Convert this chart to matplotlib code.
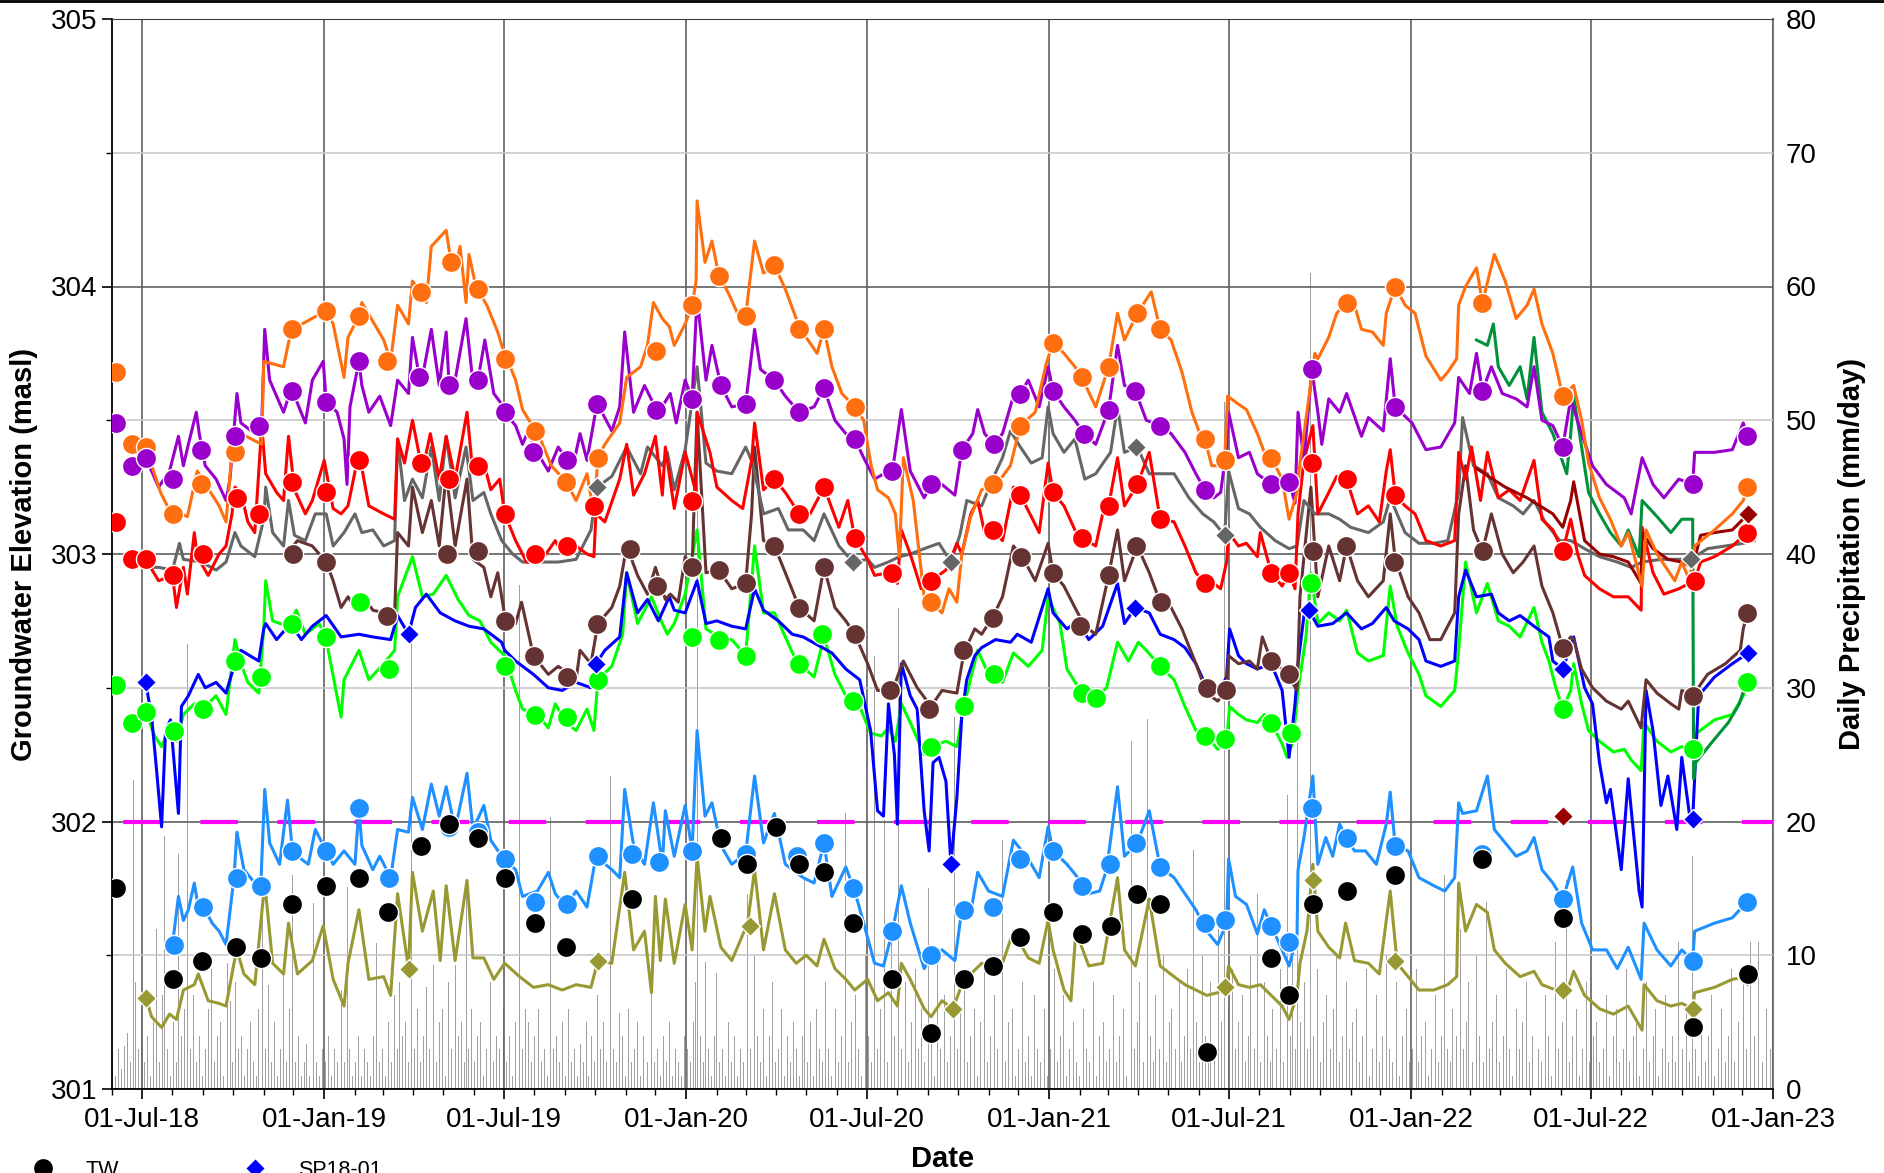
import numpy as np
import matplotlib
matplotlib.use('Agg')
import matplotlib.pyplot as plt
import matplotlib.dates as mdates
from matplotlib.ticker import MultipleLocator
from matplotlib.lines import Line2D

plt.rcParams['font.family'] = ['Liberation Sans', 'DejaVu Sans']

# x values are days counted from this date
T0 = np.datetime64('2018-06-01')

# ---- continuous logger records (day, elevation masl) ----
orange_day = [34, 49, 57, 76, 86, 108, 115, 122, 130, 151, 153, 173, 178, 182, 216, 223, 234, 238, 249, 252, 274, 281, 288, 299, 303, 312, 317, 322, 337, 342, 346, 351, 357, 360, 367, 378, 389, 393, 407, 414, 432, 443, 458, 468, 479, 486, 490, 497, 512, 519, 533, 540, 546, 555, 562, 567, 578, 585, 589, 590, 598, 605, 612, 621, 632, 639, 648, 657, 668, 679, 690, 700, 711, 718, 726, 736, 749, 758, 765, 772, 783, 790, 794, 798, 808, 819, 826, 837, 844, 852, 857, 866, 877, 888, 898, 906, 916, 931, 942, 949, 960, 971, 978, 992, 1005, 1014, 1021, 1034, 1048, 1057, 1068, 1079, 1089, 1097, 1102, 1109, 1115, 1122, 1125, 1136, 1144, 1155, 1162, 1169, 1180, 1187, 1195, 1198, 1213, 1216, 1227, 1235, 1245, 1253, 1260, 1271, 1282, 1285, 1294, 1304, 1314, 1325, 1340, 1347, 1356, 1358, 1365, 1376, 1382, 1394, 1405, 1416, 1427, 1434, 1442, 1453, 1463, 1474, 1482, 1489, 1500, 1511, 1522, 1529, 1543, 1547, 1558, 1576, 1583, 1591, 1596, 1616, 1634, 1645, 1649]
orange_elev = [303.40, 303.23, 303.17, 303.14, 303.31, 303.18, 303.12, 303.43, 303.45, 303.41, 303.72, 303.70, 303.79, 303.84, 303.91, 303.86, 303.66, 303.81, 303.89, 303.94, 303.80, 303.72, 303.93, 303.86, 304.02, 303.98, 303.94, 304.15, 304.21, 304.09, 304.07, 304.15, 303.94, 304.12, 304.00, 303.93, 303.83, 303.78, 303.65, 303.54, 303.43, 303.33, 303.27, 303.20, 303.30, 303.15, 303.36, 303.41, 303.49, 303.66, 303.70, 303.78, 303.94, 303.88, 303.85, 303.78, 303.86, 303.93, 304.02, 304.32, 304.09, 304.17, 304.04, 303.98, 303.89, 303.89, 304.17, 304.05, 304.08, 303.99, 303.88, 303.81, 303.75, 303.84, 303.70, 303.60, 303.55, 303.50, 303.34, 303.24, 303.21, 303.15, 302.99, 303.36, 303.20, 302.84, 302.82, 302.78, 302.87, 302.82, 303.00, 303.14, 303.24, 303.26, 303.29, 303.33, 303.48, 303.53, 303.71, 303.79, 303.75, 303.70, 303.66, 303.55, 303.70, 303.90, 303.80, 303.90, 303.98, 303.84, 303.80, 303.68, 303.53, 303.45, 303.43, 303.33, 303.33, 303.35, 303.59, 303.56, 303.54, 303.45, 303.38, 303.36, 303.28, 303.13, 303.23, 303.34, 303.75, 303.73, 303.81, 303.90, 303.94, 303.93, 303.84, 303.83, 303.78, 303.90, 304.00, 303.93, 303.90, 303.74, 303.65, 303.68, 303.73, 303.93, 304.00, 304.07, 303.94, 304.12, 304.02, 303.88, 303.93, 303.99, 303.86, 303.75, 303.59, 303.63, 303.50, 303.34, 303.21, 303.13, 303.03, 303.08, 302.88, 303.09, 303.00, 302.90, 302.97, 302.90, 303.03, 303.09, 303.15, 303.20, 303.25]

purple_day = [34, 47, 58, 67, 72, 77, 85, 88, 94, 105, 115, 119, 126, 130, 144, 151, 154, 159, 173, 180, 182, 195, 202, 213, 216, 227, 234, 237, 240, 249, 252, 259, 270, 281, 288, 299, 303, 310, 313, 322, 330, 337, 340, 346, 357, 364, 369, 376, 385, 393, 396, 407, 414, 422, 425, 432, 440, 450, 459, 465, 472, 479, 489, 494, 504, 512, 517, 526, 537, 549, 553, 563, 569, 578, 585, 590, 599, 605, 614, 625, 639, 648, 654, 668, 679, 693, 708, 718, 729, 740, 749, 758, 769, 783, 787, 796, 805, 819, 826, 837, 850, 857, 868, 873, 880, 889, 898, 909, 916, 924, 935, 944, 949, 960, 971, 980, 992, 1005, 1014, 1021, 1032, 1043, 1057, 1068, 1082, 1093, 1102, 1111, 1118, 1124, 1126, 1136, 1147, 1155, 1169, 1187, 1193, 1196, 1202, 1210, 1216, 1220, 1227, 1238, 1245, 1260, 1267, 1282, 1289, 1294, 1311, 1325, 1340, 1354, 1358, 1369, 1376, 1382, 1391, 1402, 1416, 1427, 1434, 1442, 1453, 1463, 1471, 1482, 1493, 1507, 1525, 1532, 1543, 1554, 1565, 1580, 1594, 1596, 1616, 1634, 1645, 1649]
purple_elev = [303.36, 303.25, 303.31, 303.44, 303.33, 303.41, 303.53, 303.45, 303.33, 303.28, 303.20, 303.28, 303.60, 303.49, 303.45, 303.49, 303.84, 303.65, 303.53, 303.61, 303.61, 303.49, 303.65, 303.72, 303.57, 303.53, 303.43, 303.26, 303.55, 303.72, 303.63, 303.53, 303.59, 303.48, 303.65, 303.60, 303.81, 303.66, 303.66, 303.84, 303.63, 303.83, 303.63, 303.65, 303.88, 303.64, 303.65, 303.80, 303.60, 303.56, 303.53, 303.48, 303.41, 303.48, 303.38, 303.36, 303.31, 303.40, 303.35, 303.33, 303.45, 303.35, 303.56, 303.53, 303.46, 303.55, 303.83, 303.53, 303.63, 303.54, 303.54, 303.60, 303.49, 303.65, 303.58, 303.96, 303.65, 303.78, 303.63, 303.55, 303.56, 303.84, 303.69, 303.65, 303.59, 303.53, 303.55, 303.62, 303.50, 303.45, 303.43, 303.36, 303.28, 303.31, 303.31, 303.54, 303.31, 303.21, 303.26, 303.26, 303.22, 303.39, 303.45, 303.54, 303.45, 303.41, 303.45, 303.59, 303.60, 303.65, 303.55, 303.70, 303.61, 303.55, 303.50, 303.45, 303.41, 303.54, 303.78, 303.63, 303.61, 303.50, 303.48, 303.45, 303.38, 303.30, 303.24, 303.21, 303.23, 303.40, 303.53, 303.36, 303.38, 303.30, 303.26, 303.27, 303.19, 303.53, 303.35, 303.69, 303.53, 303.41, 303.58, 303.53, 303.60, 303.44, 303.51, 303.46, 303.73, 303.55, 303.49, 303.39, 303.40, 303.49, 303.66, 303.60, 303.75, 303.61, 303.70, 303.60, 303.58, 303.55, 303.70, 303.50, 303.48, 303.40, 303.58, 303.45, 303.33, 303.26, 303.21, 303.15, 303.36, 303.26, 303.21, 303.28, 303.26, 303.38, 303.38, 303.39, 303.49, 303.44]

red_day = [34, 47, 61, 65, 72, 76, 83, 86, 97, 108, 115, 121, 124, 130, 137, 144, 151, 155, 166, 173, 178, 184, 195, 202, 214, 223, 231, 238, 249, 259, 274, 285, 288, 295, 303, 313, 321, 330, 337, 346, 358, 364, 375, 382, 391, 396, 407, 418, 432, 447, 454, 468, 479, 486, 488, 497, 512, 519, 526, 537, 548, 555, 558, 567, 578, 589, 590, 603, 610, 625, 636, 645, 648, 657, 668, 679, 693, 704, 718, 733, 742, 749, 762, 769, 783, 792, 796, 805, 816, 826, 841, 852, 857, 866, 873, 880, 888, 898, 909, 916, 927, 935, 944, 949, 960, 971, 978, 992, 999, 1005, 1014, 1021, 1034, 1046, 1057, 1071, 1082, 1093, 1102, 1111, 1118, 1124, 1126, 1136, 1144, 1155, 1158, 1169, 1180, 1187, 1193, 1196, 1202, 1211, 1216, 1227, 1235, 1245, 1256, 1267, 1278, 1285, 1289, 1294, 1304, 1314, 1325, 1340, 1354, 1358, 1365, 1371, 1380, 1387, 1398, 1409, 1420, 1434, 1442, 1453, 1463, 1471, 1478, 1485, 1500, 1514, 1529, 1542, 1543, 1554, 1565, 1580, 1596, 1602, 1616, 1634, 1649]
red_elev = [302.98, 302.90, 302.92, 302.80, 302.95, 302.85, 303.08, 302.99, 302.92, 303.00, 303.03, 303.15, 303.25, 303.23, 303.12, 303.08, 303.48, 303.30, 303.23, 303.20, 303.44, 303.24, 303.15, 303.20, 303.35, 303.17, 303.15, 303.18, 303.38, 303.18, 303.15, 303.13, 303.43, 303.34, 303.50, 303.31, 303.45, 303.28, 303.44, 303.28, 303.53, 303.30, 303.34, 303.24, 303.28, 303.15, 303.05, 302.97, 302.97, 303.05, 303.00, 303.03, 303.00, 302.99, 303.15, 303.12, 303.28, 303.41, 303.22, 303.30, 303.44, 303.22, 303.40, 303.17, 303.38, 303.23, 303.53, 303.38, 303.25, 303.20, 303.17, 303.35, 303.49, 303.24, 303.28, 303.23, 303.15, 303.15, 303.25, 303.10, 303.20, 303.06, 302.98, 302.92, 302.93, 302.89, 303.09, 303.00, 302.87, 302.90, 302.94, 303.04, 303.00, 303.15, 303.20, 303.08, 303.09, 303.05, 303.25, 303.22, 303.14, 303.08, 303.34, 303.23, 303.18, 303.09, 303.06, 303.03, 303.15, 303.18, 303.36, 303.18, 303.26, 303.38, 303.13, 303.12, 303.03, 302.93, 302.89, 302.89, 302.87, 302.97, 303.08, 303.03, 303.04, 302.99, 303.08, 302.93, 302.88, 302.93, 302.87, 303.15, 303.35, 303.48, 303.15, 303.23, 303.29, 303.28, 303.15, 303.18, 303.12, 303.31, 303.39, 303.22, 303.18, 303.15, 303.05, 303.03, 303.05, 303.38, 303.28, 303.40, 303.20, 303.38, 303.21, 303.24, 303.20, 303.35, 303.13, 303.09, 303.01, 303.13, 303.00, 302.92, 302.87, 302.84, 302.84, 302.79, 303.10, 302.93, 302.85, 302.87, 302.90, 302.97, 302.99, 303.03, 303.08]

gray_day = [34, 47, 61, 68, 72, 90, 105, 115, 124, 130, 144, 153, 155, 162, 173, 178, 184, 195, 205, 216, 223, 234, 245, 252, 263, 274, 285, 288, 295, 303, 313, 322, 330, 337, 346, 357, 364, 375, 382, 393, 404, 414, 432, 450, 468, 483, 489, 504, 519, 533, 540, 555, 560, 567, 578, 590, 599, 610, 625, 639, 646, 657, 672, 682, 697, 708, 718, 733, 747, 762, 769, 783, 794, 805, 819, 834, 846, 855, 862, 877, 888, 898, 906, 916, 927, 938, 944, 949, 960, 971, 981, 992, 1007, 1014, 1021, 1034, 1046, 1057, 1071, 1086, 1100, 1111, 1122, 1126, 1136, 1147, 1158, 1173, 1187, 1195, 1202, 1213, 1227, 1238, 1249, 1267, 1282, 1289, 1304, 1318, 1333, 1347, 1358, 1362, 1373, 1387, 1398, 1413, 1423, 1434, 1445, 1460, 1471, 1485, 1500, 1518, 1532, 1543, 1562, 1580, 1592, 1609, 1627, 1645, 1656]
gray_elev = [302.95, 302.95, 302.94, 303.04, 302.98, 302.97, 302.94, 302.97, 303.08, 303.03, 302.99, 303.13, 303.25, 303.08, 303.03, 303.20, 303.07, 303.05, 303.15, 303.15, 303.03, 303.08, 303.15, 303.08, 303.09, 303.03, 303.05, 303.43, 303.20, 303.28, 303.21, 303.40, 303.20, 303.44, 303.21, 303.40, 303.20, 303.23, 303.15, 303.05, 303.00, 302.97, 302.97, 302.97, 302.98, 303.09, 303.25, 303.29, 303.40, 303.30, 303.40, 303.33, 303.38, 303.24, 303.39, 303.70, 303.34, 303.31, 303.30, 303.40, 303.34, 303.15, 303.17, 303.09, 303.09, 303.05, 303.15, 303.03, 302.97, 302.98, 302.95, 302.97, 302.99, 303.00, 303.02, 303.04, 302.97, 303.07, 303.20, 303.18, 303.28, 303.36, 303.46, 303.40, 303.34, 303.36, 303.55, 303.45, 303.38, 303.43, 303.28, 303.30, 303.38, 303.55, 303.38, 303.40, 303.30, 303.30, 303.30, 303.21, 303.15, 303.12, 303.07, 303.31, 303.17, 303.15, 303.10, 303.05, 303.02, 303.03, 303.20, 303.15, 303.15, 303.13, 303.10, 303.08, 303.12, 303.21, 303.08, 303.04, 303.04, 303.05, 303.23, 303.51, 303.33, 303.30, 303.21, 303.18, 303.15, 303.20, 303.12, 303.05, 303.05, 303.02, 302.99, 302.97, 302.95, 302.97, 302.98, 302.98, 302.98, 303.02, 303.03, 303.04, 303.05]

brown_day = [176, 187, 202, 216, 223, 231, 238, 245, 252, 263, 274, 285, 288, 299, 303, 313, 322, 330, 337, 346, 358, 364, 375, 382, 389, 396, 407, 413, 422, 425, 440, 450, 461, 468, 472, 483, 490, 504, 512, 519, 530, 540, 548, 558, 563, 571, 578, 585, 590, 599, 612, 625, 639, 645, 648, 657, 668, 679, 693, 708, 718, 729, 740, 749, 762, 772, 787, 798, 812, 826, 837, 852, 859, 870, 877, 889, 898, 909, 918, 931, 944, 949, 960, 971, 981, 992, 1005, 1014, 1021, 1034, 1046, 1057, 1068, 1079, 1093, 1104, 1115, 1124, 1126, 1136, 1147, 1155, 1160, 1169, 1180, 1187, 1195, 1198, 1209, 1216, 1227, 1238, 1245, 1256, 1267, 1282, 1289, 1294, 1307, 1318, 1329, 1340, 1354, 1358, 1365, 1373, 1382, 1391, 1402, 1413, 1423, 1434, 1442, 1453, 1463, 1471, 1474, 1482, 1493, 1507, 1522, 1529, 1542, 1547, 1558, 1572, 1580, 1583, 1594, 1609, 1627, 1642, 1645, 1649]
brown_elev = [303.00, 303.05, 303.03, 302.97, 302.90, 302.80, 302.84, 302.80, 302.85, 302.79, 302.78, 302.78, 303.08, 303.03, 303.25, 303.08, 303.20, 303.03, 303.30, 303.03, 303.28, 302.98, 302.95, 302.84, 302.93, 302.77, 302.74, 302.82, 302.67, 302.62, 302.55, 302.58, 302.55, 302.53, 302.64, 302.59, 302.74, 302.80, 302.88, 303.03, 302.92, 302.85, 302.95, 302.83, 302.85, 302.82, 302.99, 302.95, 303.53, 302.93, 302.94, 302.87, 302.89, 303.15, 303.40, 303.05, 303.03, 302.93, 302.80, 302.75, 302.95, 302.80, 302.75, 302.70, 302.59, 302.49, 302.49, 302.60, 302.50, 302.43, 302.49, 302.48, 302.63, 302.72, 302.70, 302.77, 302.84, 303.03, 302.99, 302.90, 303.04, 302.93, 302.88, 302.80, 302.73, 302.70, 302.92, 303.09, 302.90, 303.03, 302.93, 302.82, 302.80, 302.72, 302.59, 302.48, 302.45, 302.49, 302.62, 302.59, 302.60, 302.57, 302.69, 302.60, 302.57, 302.54, 302.49, 302.84, 303.25, 302.84, 303.03, 302.90, 303.03, 302.90, 302.84, 302.90, 303.15, 302.98, 302.84, 302.78, 302.68, 302.68, 302.78, 303.15, 303.33, 303.09, 303.01, 303.15, 303.00, 302.93, 302.97, 303.03, 302.88, 302.78, 302.65, 302.69, 302.68, 302.57, 302.50, 302.45, 302.42, 302.45, 302.35, 302.53, 302.48, 302.44, 302.42, 302.49, 302.47, 302.55, 302.59, 302.64, 302.72, 302.78]

blue_day = [34, 40, 45, 50, 54, 59, 67, 70, 77, 87, 94, 105, 115, 123, 130, 148, 153, 155, 166, 180, 191, 202, 216, 231, 249, 263, 281, 288, 299, 306, 317, 331, 346, 360, 375, 393, 396, 407, 425, 440, 454, 468, 483, 488, 497, 512, 519, 530, 540, 551, 562, 567, 578, 590, 599, 610, 625, 639, 648, 657, 672, 686, 697, 726, 740, 754, 765, 772, 778, 783, 789, 792, 796, 805, 812, 819, 824, 828, 834, 841, 846, 852, 857, 862, 870, 877, 891, 906, 913, 927, 944, 949, 963, 974, 985, 999, 1014, 1021, 1032, 1046, 1057, 1071, 1082, 1093, 1104, 1115, 1124, 1127, 1136, 1144, 1155, 1169, 1180, 1187, 1193, 1196, 1202, 1207, 1216, 1231, 1245, 1260, 1271, 1285, 1293, 1307, 1318, 1325, 1340, 1354, 1358, 1365, 1376, 1391, 1398, 1409, 1420, 1434, 1449, 1453, 1463, 1474, 1485, 1493, 1500, 1507, 1511, 1522, 1529, 1540, 1543, 1547, 1554, 1562, 1569, 1578, 1583, 1591, 1594, 1600, 1616, 1634, 1650]
blue_elev = [302.52, 302.39, 302.19, 301.98, 302.34, 302.38, 302.03, 302.43, 302.47, 302.55, 302.50, 302.52, 302.48, 302.58, 302.64, 302.60, 302.72, 302.74, 302.68, 302.74, 302.68, 302.73, 302.77, 302.69, 302.70, 302.69, 302.68, 302.77, 302.70, 302.80, 302.85, 302.78, 302.75, 302.73, 302.72, 302.67, 302.64, 302.60, 302.55, 302.50, 302.49, 302.52, 302.50, 302.59, 302.64, 302.69, 302.93, 302.78, 302.83, 302.75, 302.84, 302.79, 302.78, 302.90, 302.74, 302.75, 302.73, 302.72, 302.87, 302.79, 302.75, 302.70, 302.69, 302.63, 302.57, 302.53, 302.34, 302.04, 302.02, 302.44, 302.25, 301.99, 302.59, 302.47, 302.42, 302.04, 301.89, 302.22, 302.24, 302.15, 301.84, 302.09, 302.40, 302.53, 302.62, 302.65, 302.68, 302.67, 302.70, 302.67, 302.87, 302.78, 302.72, 302.75, 302.68, 302.73, 302.89, 302.74, 302.80, 302.78, 302.70, 302.68, 302.65, 302.59, 302.50, 302.48, 302.54, 302.72, 302.62, 302.59, 302.57, 302.59, 302.49, 302.24, 302.44, 302.59, 302.77, 302.79, 302.73, 302.74, 302.78, 302.72, 302.74, 302.80, 302.75, 302.72, 302.68, 302.60, 302.58, 302.60, 302.84, 302.94, 302.84, 302.85, 302.78, 302.75, 302.77, 302.73, 302.69, 302.60, 302.57, 302.69, 302.50, 302.44, 302.22, 302.07, 302.12, 301.82, 302.16, 301.74, 301.68, 302.49, 302.34, 302.06, 302.17, 301.97, 302.24, 302.02, 302.01, 302.47, 302.54, 302.59, 302.63]

green_day = [34, 43, 50, 58, 65, 72, 83, 94, 105, 115, 124, 130, 137, 148, 153, 155, 162, 177, 186, 195, 209, 216, 231, 234, 249, 259, 274, 285, 288, 303, 313, 324, 337, 349, 360, 371, 382, 396, 407, 414, 429, 440, 447, 458, 468, 479, 486, 490, 504, 515, 519, 530, 544, 555, 560, 567, 578, 590, 599, 612, 625, 639, 648, 657, 668, 679, 690, 708, 718, 729, 740, 754, 765, 776, 783, 790, 796, 805, 819, 826, 841, 852, 859, 873, 884, 898, 909, 924, 938, 944, 956, 963, 978, 992, 1003, 1014, 1025, 1035, 1043, 1057, 1071, 1082, 1093, 1104, 1115, 1124, 1127, 1136, 1144, 1155, 1162, 1169, 1180, 1185, 1191, 1196, 1204, 1209, 1216, 1227, 1238, 1245, 1256, 1267, 1282, 1289, 1296, 1307, 1318, 1325, 1340, 1354, 1358, 1365, 1376, 1387, 1398, 1409, 1420, 1434, 1442, 1449, 1456, 1463, 1471, 1474, 1482, 1489, 1500, 1514, 1525, 1532, 1542, 1545, 1558, 1572, 1583, 1594, 1598, 1616, 1634, 1645, 1649]
green_elev = [302.41, 302.32, 302.28, 302.35, 302.30, 302.40, 302.44, 302.43, 302.47, 302.40, 302.68, 302.59, 302.52, 302.48, 302.72, 302.90, 302.75, 302.73, 302.79, 302.70, 302.74, 302.68, 302.39, 302.53, 302.64, 302.53, 302.59, 302.64, 302.84, 302.99, 302.84, 302.85, 302.92, 302.83, 302.77, 302.75, 302.67, 302.62, 302.49, 302.42, 302.40, 302.35, 302.44, 302.37, 302.34, 302.42, 302.34, 302.53, 302.58, 302.70, 302.93, 302.74, 302.84, 302.74, 302.70, 302.74, 302.85, 303.09, 302.72, 302.69, 302.68, 302.62, 303.03, 302.78, 302.78, 302.69, 302.60, 302.54, 302.69, 302.55, 302.47, 302.43, 302.33, 302.32, 302.35, 302.30, 302.44, 302.37, 302.25, 302.28, 302.30, 302.28, 302.43, 302.64, 302.55, 302.52, 302.63, 302.58, 302.64, 302.84, 302.74, 302.57, 302.48, 302.46, 302.50, 302.67, 302.60, 302.67, 302.64, 302.58, 302.53, 302.43, 302.34, 302.32, 302.27, 302.30, 302.43, 302.40, 302.38, 302.37, 302.40, 302.37, 302.29, 302.24, 302.30, 302.49, 302.69, 302.93, 302.74, 302.78, 302.75, 302.79, 302.63, 302.60, 302.62, 302.88, 302.73, 302.63, 302.55, 302.47, 302.43, 302.49, 302.64, 302.97, 302.78, 302.89, 302.75, 302.73, 302.69, 302.80, 302.67, 302.60, 302.50, 302.42, 302.49, 302.59, 302.44, 302.34, 302.30, 302.26, 302.27, 302.23, 302.19, 302.37, 302.30, 302.26, 302.28, 302.27, 302.33, 302.38, 302.40, 302.47, 302.52]

ltblue_day = [61, 67, 72, 77, 83, 87, 94, 101, 108, 115, 123, 126, 133, 144, 150, 154, 159, 169, 177, 182, 187, 198, 205, 216, 223, 234, 245, 249, 252, 263, 270, 281, 288, 299, 303, 313, 322, 330, 337, 346, 358, 364, 375, 382, 393, 407, 414, 429, 440, 447, 458, 468, 479, 488, 504, 512, 517, 526, 537, 546, 555, 558, 567, 578, 585, 590, 598, 605, 614, 625, 639, 648, 657, 668, 679, 697, 708, 718, 726, 740, 749, 758, 769, 778, 787, 796, 805, 819, 826, 837, 850, 857, 866, 873, 884, 898, 909, 924, 935, 944, 949, 963, 974, 985, 996, 1003, 1014, 1021, 1034, 1046, 1057, 1071, 1082, 1093, 1104, 1115, 1124, 1126, 1133, 1144, 1155, 1162, 1169, 1180, 1187, 1195, 1196, 1202, 1211, 1216, 1224, 1231, 1238, 1245, 1253, 1264, 1275, 1285, 1289, 1294, 1307, 1318, 1333, 1344, 1354, 1358, 1362, 1376, 1387, 1394, 1405, 1416, 1427, 1434, 1442, 1453, 1463, 1473, 1482, 1493, 1507, 1518, 1529, 1542, 1545, 1558, 1572, 1583, 1594, 1596, 1616, 1634, 1649]
ltblue_elev = [301.54, 301.72, 301.63, 301.67, 301.77, 301.68, 301.67, 301.62, 301.59, 301.54, 301.79, 301.96, 301.82, 301.77, 301.76, 302.12, 301.92, 301.84, 302.08, 301.89, 301.87, 301.84, 301.97, 301.89, 301.84, 301.89, 301.84, 302.05, 301.91, 301.82, 301.87, 301.79, 301.97, 301.96, 302.09, 301.97, 302.14, 302.02, 302.13, 301.97, 302.18, 301.97, 302.06, 301.93, 301.87, 301.82, 301.72, 301.74, 301.81, 301.73, 301.68, 301.74, 301.68, 301.87, 301.82, 301.79, 302.12, 301.91, 301.84, 302.07, 301.84, 302.04, 301.87, 302.06, 301.89, 302.34, 302.02, 302.07, 301.91, 301.84, 301.88, 302.17, 301.92, 302.03, 301.84, 301.79, 301.77, 301.92, 301.72, 301.83, 301.74, 301.62, 301.47, 301.46, 301.59, 301.76, 301.62, 301.45, 301.50, 301.52, 301.48, 301.67, 301.66, 301.81, 301.74, 301.72, 301.93, 301.86, 301.79, 301.98, 301.89, 301.84, 301.79, 301.73, 301.74, 301.82, 302.13, 301.87, 301.92, 302.04, 301.83, 301.79, 301.73, 301.67, 301.59, 301.54, 301.62, 301.86, 301.72, 301.69, 301.58, 301.67, 301.61, 301.52, 301.46, 301.57, 301.82, 301.94, 302.17, 301.84, 301.94, 301.87, 301.99, 301.94, 301.89, 301.89, 301.84, 301.99, 302.11, 301.91, 301.89, 301.79, 301.76, 301.74, 301.79, 302.07, 302.03, 302.04, 302.17, 301.97, 301.92, 301.87, 301.89, 301.94, 301.82, 301.77, 301.71, 301.83, 301.62, 301.52, 301.52, 301.45, 301.53, 301.41, 301.62, 301.52, 301.46, 301.52, 301.48, 301.59, 301.62, 301.64, 301.70]

olive_day = [34, 40, 50, 58, 65, 72, 83, 87, 97, 108, 115, 123, 126, 133, 144, 154, 162, 173, 178, 187, 202, 213, 223, 234, 238, 249, 259, 274, 281, 288, 299, 303, 313, 324, 331, 337, 346, 358, 364, 375, 385, 396, 411, 425, 440, 454, 468, 483, 490, 504, 517, 526, 537, 544, 548, 553, 558, 567, 578, 585, 590, 598, 603, 614, 625, 641, 648, 657, 668, 679, 690, 700, 711, 718, 729, 740, 749, 762, 772, 783, 792, 796, 805, 819, 826, 837, 848, 857, 866, 877, 888, 898, 909, 924, 935, 944, 949, 960, 967, 972, 985, 999, 1014, 1021, 1032, 1046, 1057, 1071, 1082, 1093, 1104, 1115, 1124, 1126, 1136, 1147, 1158, 1169, 1180, 1187, 1195, 1198, 1205, 1211, 1216, 1227, 1238, 1244, 1253, 1267, 1278, 1285, 1289, 1296, 1307, 1318, 1333, 1347, 1356, 1358, 1365, 1376, 1387, 1394, 1405, 1420, 1434, 1442, 1456, 1467, 1474, 1485, 1500, 1514, 1529, 1543, 1545, 1558, 1572, 1583, 1594, 1596, 1616, 1634, 1649]
olive_elev = [301.34, 301.27, 301.23, 301.28, 301.26, 301.37, 301.39, 301.43, 301.33, 301.32, 301.31, 301.47, 301.52, 301.43, 301.39, 301.77, 301.47, 301.43, 301.62, 301.43, 301.48, 301.61, 301.41, 301.31, 301.47, 301.67, 301.41, 301.42, 301.35, 301.73, 301.45, 301.81, 301.59, 301.74, 301.48, 301.76, 301.48, 301.78, 301.49, 301.49, 301.41, 301.47, 301.42, 301.38, 301.39, 301.37, 301.39, 301.38, 301.48, 301.47, 301.81, 301.52, 301.59, 301.36, 301.72, 301.48, 301.71, 301.47, 301.69, 301.52, 301.87, 301.59, 301.72, 301.53, 301.48, 301.62, 301.82, 301.52, 301.73, 301.52, 301.47, 301.50, 301.46, 301.56, 301.45, 301.41, 301.37, 301.41, 301.33, 301.36, 301.31, 301.47, 301.41, 301.30, 301.27, 301.33, 301.30, 301.39, 301.43, 301.47, 301.46, 301.47, 301.59, 301.49, 301.47, 301.63, 301.52, 301.37, 301.33, 301.59, 301.46, 301.47, 301.79, 301.52, 301.46, 301.71, 301.46, 301.42, 301.39, 301.37, 301.35, 301.36, 301.39, 301.46, 301.39, 301.38, 301.39, 301.35, 301.31, 301.26, 301.35, 301.47, 301.59, 301.84, 301.59, 301.53, 301.49, 301.62, 301.48, 301.47, 301.43, 301.63, 301.74, 301.47, 301.42, 301.37, 301.37, 301.39, 301.42, 301.77, 301.59, 301.69, 301.66, 301.52, 301.47, 301.42, 301.44, 301.39, 301.37, 301.36, 301.44, 301.35, 301.30, 301.28, 301.31, 301.22, 301.39, 301.33, 301.31, 301.32, 301.30, 301.36, 301.38, 301.41, 301.42]

dkred_day = [1376, 1384, 1405, 1427, 1453, 1463, 1471, 1474, 1485, 1500, 1514, 1529, 1542, 1543, 1554, 1569, 1583, 1594, 1602, 1616, 1634, 1650]
dkred_elev = [303.32, 303.30, 303.25, 303.21, 303.15, 303.10, 303.20, 303.27, 303.05, 303.00, 302.99, 302.97, 302.89, 303.08, 303.02, 302.98, 302.97, 302.95, 303.07, 303.08, 303.09, 303.15]

dkgreen_day = [1376, 1387, 1393, 1398, 1409, 1420, 1427, 1434, 1442, 1453, 1467, 1471, 1474, 1482, 1489, 1500, 1511, 1522, 1529, 1540, 1543, 1558, 1572, 1583, 1594, 1595, 1597, 1612, 1630, 1641, 1649]
dkgreen_elev = [303.80, 303.78, 303.86, 303.70, 303.63, 303.70, 303.58, 303.81, 303.53, 303.45, 303.30, 303.45, 303.59, 303.40, 303.23, 303.15, 303.08, 303.03, 303.09, 302.99, 303.20, 303.14, 303.08, 303.13, 303.13, 302.16, 302.22, 302.29, 302.37, 302.44, 302.53]

# ---- manual water level measurements (day, elevation masl) ----
orange_obs_day = [4, 20, 34, 62, 90, 124, 182, 216, 249, 277, 312, 342, 369, 396, 427, 458, 490, 549, 585, 612, 639, 668, 693, 718, 749, 826, 888, 916, 949, 978, 1005, 1034, 1057, 1102, 1122, 1169, 1245, 1294, 1382, 1463, 1649]
orange_obs = [303.68, 303.41, 303.40, 303.15, 303.26, 303.38, 303.84, 303.91, 303.89, 303.72, 303.98, 304.09, 303.99, 303.73, 303.46, 303.27, 303.36, 303.76, 303.93, 304.04, 303.89, 304.08, 303.84, 303.84, 303.55, 302.82, 303.26, 303.48, 303.79, 303.66, 303.70, 303.90, 303.84, 303.43, 303.35, 303.36, 303.94, 304.00, 303.94, 303.59, 303.25]

purple_obs_day = [4, 20, 34, 62, 90, 124, 148, 182, 216, 249, 310, 340, 369, 396, 425, 459, 489, 549, 585, 614, 639, 668, 693, 718, 749, 787, 826, 857, 889, 916, 949, 980, 1005, 1032, 1057, 1102, 1169, 1187, 1210, 1294, 1382, 1463, 1594, 1649]
purple_obs = [303.49, 303.33, 303.36, 303.28, 303.39, 303.44, 303.48, 303.61, 303.57, 303.72, 303.66, 303.63, 303.65, 303.53, 303.38, 303.35, 303.56, 303.54, 303.58, 303.63, 303.56, 303.65, 303.53, 303.62, 303.43, 303.31, 303.26, 303.39, 303.41, 303.60, 303.61, 303.45, 303.54, 303.61, 303.48, 303.24, 303.26, 303.27, 303.69, 303.55, 303.61, 303.40, 303.26, 303.44]

red_obs_day = [4, 20, 34, 62, 92, 126, 148, 182, 216, 249, 312, 340, 369, 396, 427, 459, 486, 585, 668, 693, 718, 749, 787, 826, 888, 916, 949, 978, 1005, 1034, 1057, 1102, 1169, 1187, 1210, 1245, 1294, 1463, 1596, 1649]
red_obs = [303.12, 302.98, 302.98, 302.92, 303.00, 303.21, 303.15, 303.27, 303.23, 303.35, 303.34, 303.28, 303.33, 303.15, 303.00, 303.03, 303.18, 303.20, 303.28, 303.15, 303.25, 303.06, 302.93, 302.90, 303.09, 303.22, 303.23, 303.06, 303.18, 303.26, 303.13, 302.89, 302.93, 302.93, 303.34, 303.28, 303.22, 303.01, 302.90, 303.08]

gray_obs_day = [489, 747, 846, 1033, 1122, 1592]
gray_obs = [303.25, 302.97, 302.97, 303.40, 303.07, 302.98]

brown_obs_day = [183, 216, 277, 338, 369, 396, 426, 459, 489, 522, 550, 585, 612, 639, 668, 693, 718, 749, 785, 824, 858, 888, 917, 949, 976, 1005, 1033, 1058, 1104, 1123, 1169, 1187, 1211, 1244, 1293, 1383, 1463, 1594, 1649]
brown_obs = [303.00, 302.97, 302.77, 303.00, 303.01, 302.75, 302.62, 302.54, 302.74, 303.02, 302.88, 302.95, 302.94, 302.89, 303.03, 302.80, 302.95, 302.70, 302.49, 302.42, 302.64, 302.76, 302.99, 302.93, 302.73, 302.92, 303.03, 302.82, 302.50, 302.49, 302.60, 302.55, 303.01, 303.03, 302.97, 303.01, 302.65, 302.47, 302.78]

blue_obs_day = [34, 299, 488, 846, 1032, 1207, 1463, 1594, 1650]
blue_obs = [302.52, 302.70, 302.59, 301.84, 302.80, 302.79, 302.57, 302.01, 302.63]

green_obs_day = [4, 20, 34, 63, 92, 124, 150, 182, 216, 250, 279, 396, 427, 459, 490, 585, 612, 639, 693, 716, 747, 826, 859, 889, 978, 992, 1057, 1102, 1122, 1169, 1189, 1209, 1463, 1594, 1649]
green_obs = [302.51, 302.37, 302.41, 302.34, 302.42, 302.60, 302.54, 302.74, 302.69, 302.82, 302.57, 302.58, 302.40, 302.39, 302.53, 302.69, 302.68, 302.62, 302.59, 302.70, 302.45, 302.28, 302.43, 302.55, 302.48, 302.46, 302.58, 302.32, 302.31, 302.37, 302.33, 302.89, 302.42, 302.27, 302.52]

ltblue_obs_day = [63, 92, 126, 150, 182, 216, 249, 279, 340, 369, 396, 427, 459, 490, 524, 552, 585, 614, 639, 691, 718, 747, 787, 826, 859, 888, 916, 949, 978, 1006, 1033, 1057, 1102, 1122, 1169, 1187, 1210, 1245, 1294, 1382, 1463, 1594, 1649]
ltblue_obs = [301.54, 301.68, 301.79, 301.76, 301.89, 301.89, 302.05, 301.79, 301.98, 301.96, 301.86, 301.70, 301.69, 301.87, 301.88, 301.85, 301.89, 301.94, 301.88, 301.87, 301.92, 301.75, 301.59, 301.50, 301.67, 301.68, 301.86, 301.89, 301.76, 301.84, 301.92, 301.83, 301.62, 301.63, 301.61, 301.55, 302.05, 301.94, 301.91, 301.88, 301.71, 301.48, 301.70]

olive_obs_day = [34, 299, 490, 643, 848, 1122, 1211, 1294, 1463, 1594, 1649]
olive_obs = [301.34, 301.45, 301.48, 301.61, 301.30, 301.38, 301.78, 301.48, 301.37, 301.30, 301.42]

dkred_obs_day = [1463, 1650]
dkred_obs = [302.02, 303.15]

tw_day = [4, 62, 91, 125, 150, 182, 216, 249, 278, 312, 340, 369, 396, 427, 458, 524, 614, 640, 670, 693, 718, 747, 787, 826, 859, 888, 916, 949, 978, 1007, 1034, 1057, 1104, 1169, 1187, 1211, 1245, 1294, 1382, 1463, 1594, 1650]
tw_elev = [301.75, 301.41, 301.48, 301.53, 301.49, 301.69, 301.76, 301.79, 301.66, 301.91, 301.99, 301.94, 301.79, 301.62, 301.53, 301.71, 301.94, 301.84, 301.98, 301.84, 301.81, 301.62, 301.41, 301.21, 301.41, 301.46, 301.57, 301.66, 301.58, 301.61, 301.73, 301.69, 301.14, 301.49, 301.35, 301.69, 301.74, 301.80, 301.86, 301.64, 301.23, 301.43]

ref_elev = 302.0

# ---- daily precipitation (day, mm/day) ----
rain_day = [1, 4, 7, 10, 13, 16, 19, 22, 24, 27, 30, 33, 36, 39, 42, 45, 48, 51, 53, 56, 59, 62, 65, 67, 70, 73, 76, 79, 82, 85, 88, 91, 94, 97, 100, 103, 106, 109, 112, 116, 119, 122, 125, 128, 131, 134, 137, 140, 143, 146, 148, 152, 155, 158, 161, 164, 167, 170, 173, 176, 179, 182, 185, 188, 191, 194, 196, 199, 203, 206, 209, 212,
            215, 218, 221, 224, 227, 231, 234, 237, 240, 243, 246, 249, 252, 255, 258, 261, 264, 267, 270, 273, 276, 279, 282, 285, 288, 290, 293, 296, 299, 302, 305, 308, 311, 314, 317, 320, 324, 327, 330, 333, 336, 339, 342, 346, 349, 352, 355, 357, 360, 363, 366, 369, 372, 375, 378, 382, 385, 388, 391,
            395, 398, 401, 404, 407, 411, 414, 417, 420, 423, 426, 430, 433, 436, 439, 442, 445, 448, 451, 454, 457, 460, 463, 466, 469, 472, 475, 478, 481, 484, 487, 490, 493, 496, 499, 503, 506, 509, 512, 515, 518, 521, 524, 527, 530, 533, 536, 540, 544, 547, 550, 553, 556, 559, 562, 565, 568, 571, 574, 577,
            580, 583, 586, 588, 590, 593, 596, 599, 602, 605, 608, 610, 613, 616, 619, 622, 625, 628, 631, 634, 637, 641, 644, 648, 651, 654, 657, 660, 663, 666, 669, 672, 675, 678, 681, 684, 687, 690, 693, 696, 698, 701, 704, 707, 710, 713, 716, 720, 723, 726, 730, 733, 736, 740, 743, 746, 750, 753, 756, 760,
            763, 766, 769, 772, 775, 779, 782, 786, 789, 793, 796, 800, 803, 806, 810, 813, 816, 819, 823, 826, 829, 832, 835, 838, 840, 843, 846, 850, 853, 856, 860, 863, 866, 870, 873, 876, 880, 883, 886, 890, 893, 898, 901, 904, 908, 911, 914, 918, 921, 924, 927, 930, 933, 936, 940, 943,
            946, 950, 953, 956, 960, 963, 966, 970, 973, 976, 980, 983, 986, 990, 993, 996, 1000, 1003, 1006, 1010, 1013, 1016, 1020, 1023, 1028, 1031, 1034, 1036, 1040, 1044, 1047, 1050, 1052, 1056, 1060, 1063, 1066, 1068, 1072, 1076, 1079, 1082, 1085, 1088, 1091, 1094, 1097, 1100, 1103, 1106, 1108, 1112, 1116, 1119, 1122,
            1126, 1130, 1133, 1136, 1140, 1143, 1146, 1148, 1152, 1155, 1158, 1162, 1165, 1168, 1170, 1174, 1178, 1181, 1185, 1188, 1190, 1193, 1195, 1199, 1203, 1206, 1209, 1212, 1216, 1219, 1222, 1225, 1229, 1232, 1235, 1238, 1241, 1245, 1248, 1251, 1255, 1258, 1261, 1265, 1268, 1271, 1275, 1278, 1281, 1285, 1288, 1291, 1295, 1298, 1301, 1305, 1308,
            1311, 1315, 1318, 1321, 1325, 1328, 1331, 1335, 1338, 1341, 1344, 1347, 1350, 1352, 1356, 1360, 1363, 1366, 1368, 1372, 1376, 1379, 1383, 1386, 1389, 1392, 1396, 1399, 1403, 1406, 1409, 1412, 1416, 1419, 1422, 1426, 1429, 1432, 1436, 1439, 1442, 1446, 1449, 1452, 1456, 1459, 1463, 1467, 1470, 1473, 1477, 1480, 1483, 1487, 1490,
            1494, 1497, 1500, 1504, 1507, 1510, 1514, 1517, 1520, 1524, 1527, 1530, 1534, 1537, 1540, 1544, 1547, 1550, 1554, 1557, 1560, 1564, 1567, 1570, 1574, 1577, 1580, 1584, 1588, 1591, 1594, 1597, 1600, 1603, 1607, 1610, 1613, 1616, 1620, 1623, 1627, 1630, 1633, 1636, 1640, 1645, 1648, 1652, 1656, 1660, 1664, 1668, 1672]
rain_mm = [2, 1, 3, 1.5, 3.2, 4.2, 2, 23.1, 8, 3, 6, 2, 4, 1, 5, 12, 2, 7, 18.9, 3, 1, 5, 2, 17.6, 4, 6, 33.3, 3, 7, 2, 4, 1, 3, 6, 9, 2, 4, 5, 1, 9.4, 6.6, 2, 8, 3, 4, 1, 3, 5, 2, 1, 6, 16.6, 3, 7.8, 2, 5, 1, 3, 9.3, 2, 6, 16, 2, 4, 1, 2, 3.4, 1, 13.9, 2, 1, 3,
           2, 4, 1, 3, 2, 7.4, 2, 15.1, 3, 1, 2, 4, 1, 3, 2, 1, 4, 10.9, 2, 3, 1, 5, 2, 7, 3, 8, 4, 5, 2, 34, 3, 6, 2, 4, 7.6, 3, 9.3, 2, 5, 6, 1, 8, 3, 9.3, 4, 5, 2, 15.6, 3, 6, 2, 4, 5, 1, 3, 8, 2, 4, 3,
           6, 2, 4, 1, 5, 37.7, 3, 6, 5, 2, 4, 6, 2, 3, 1, 20.3, 3, 4, 2, 5, 1, 6, 2, 3, 1, 3.4, 2, 5, 1, 4, 2, 7, 3, 5, 2, 23.4, 3, 2, 5.7, 4, 1, 6, 2, 3, 5, 1, 4, 2, 8.5, 2, 3, 1, 4, 2, 5, 1, 3, 2, 1, 4,
           3, 2, 5, 8, 45, 4, 2, 9.5, 3, 1, 4, 8.7, 2, 3, 1, 5, 2, 4, 1, 3, 2, 14.6, 3, 10, 4, 2, 6, 1, 4, 8, 2, 3, 6, 1, 4, 2, 5, 3, 1, 4, 15.6, 2, 5, 1, 6, 3, 2, 8, 3, 1, 6, 2, 4, 20.6, 2, 5, 7, 3, 1, 10,
           4, 2, 32.4, 3, 6, 20.1, 2, 12, 4, 36, 3, 8, 2, 5, 9, 3, 6, 2, 15, 4, 1, 10, 3, 5, 7, 2, 4, 27.8, 3, 6, 8, 2, 4, 6, 1, 5, 9, 2, 4, 7, 3, 18.6, 2, 5, 6, 1, 3, 8, 2, 4, 1, 7, 3, 2, 6, 1,
           3, 9, 2, 4, 7, 1, 3, 5, 2, 1, 6, 3, 2, 8, 1, 4, 5, 2, 3, 7, 2, 4, 6, 1, 26, 3, 5, 8, 2, 27.7, 4, 2, 7, 3, 10, 2, 5, 6, 3, 8, 2, 4, 9, 3, 17.9, 5, 2, 10, 4, 2, 8, 3, 12, 5, 51.4,
           6, 9, 3, 5, 7, 2, 4, 10, 3, 14.6, 2, 8, 4, 2, 6, 3, 9, 2, 22, 4, 10, 3, 26.8, 5, 8, 3, 61, 4, 9, 2, 5, 7, 3, 6, 10, 2, 4, 8, 3, 5, 6, 2, 4, 9, 1, 3, 7, 2, 4, 10, 3, 2, 8, 1, 4, 6, 2,
           3, 9, 2, 4, 5, 1, 3, 7, 2, 4, 16, 3, 2, 6, 4, 12, 3, 5, 8, 2, 10, 4, 2, 14, 3, 5, 7, 2, 4, 9, 3, 1, 6, 3, 5, 8, 2, 4, 11, 3, 2, 7, 4, 1, 11, 3, 5, 15.6, 2, 4, 6, 1, 3, 8, 2,
           4, 5, 2, 3, 7, 1, 4, 6, 2, 3, 9, 2, 4, 5, 1, 3, 8, 2, 4, 6, 1, 3, 7, 2, 4, 2, 11, 3, 6, 2, 17.4, 3, 1, 5, 2, 4, 7, 1, 3, 6, 2, 4, 9, 2, 5, 8, 3, 11, 4, 11, 2, 6, 3]


def to_date(days):
    return T0 + np.asarray(days).astype('timedelta64[D]')


fig = plt.figure(figsize=(18.84, 11.73), dpi=100)
ax = fig.add_axes([112 / 1884, 1 - 1089 / 1173, 1661 / 1884, 1070 / 1173])
ax2 = ax.twinx()

# precipitation behind the groundwater lines
ax2.bar(to_date(rain_day), rain_mm, width=1.0, color='#A0A0A0', zorder=1)
ax2.set_ylim(0, 80)
ax.set_zorder(ax2.get_zorder() + 1)
ax.patch.set_visible(False)

ax.axhline(ref_elev, color='#FF00FF', lw=3, ls=(15.8, (9.0, 9.5)), zorder=2)

lines = [
    (olive_day, olive_elev, '#999933'),
    (ltblue_day, ltblue_elev, '#1E90FF'),
    (green_day, green_elev, '#00FF00'),
    (blue_day, blue_elev, '#0000FF'),
    (brown_day, brown_elev, '#663333'),
    (gray_day, gray_elev, '#666666'),
    (red_day, red_elev, '#FF0000'),
    (dkred_day, dkred_elev, '#990000'),
    (dkgreen_day, dkgreen_elev, '#00923A'),
    (purple_day, purple_elev, '#9900CC'),
    (orange_day, orange_elev, '#FF6E0F'),
]
for d, v, c in lines:
    ax.plot(to_date(d), v, color=c, lw=2.2, zorder=3)

circles = [
    (orange_obs_day, orange_obs, '#FF6E0F'),
    (purple_obs_day, purple_obs, '#9900CC'),
    (red_obs_day, red_obs, '#FF0000'),
    (brown_obs_day, brown_obs, '#663333'),
    (green_obs_day, green_obs, '#00FF00'),
    (ltblue_obs_day, ltblue_obs, '#1E90FF'),
]
for d, v, c in circles:
    ax.plot(to_date(d), v, 'o', ms=14.5, color=c, mec='white', mew=1.0, zorder=4)

diamonds = [
    (gray_obs_day, gray_obs, '#666666'),
    (blue_obs_day, blue_obs, '#0000FF'),
    (olive_obs_day, olive_obs, '#999933'),
    (dkred_obs_day, dkred_obs, '#990000'),
]
for d, v, c in diamonds:
    ax.plot(to_date(d), v, 'D', ms=10, color=c, mec='white', mew=1.0, zorder=4)

ax.plot(to_date(tw_day), tw_elev, 'o', ms=14.5, color='black', mec='white', mew=1.0, zorder=5)

# axes formatting
ax.set_xlim(T0, np.datetime64('2023-01-01'))
ax.set_ylim(301, 305)
ax.yaxis.set_major_locator(MultipleLocator(1))
ax.yaxis.set_minor_locator(MultipleLocator(0.5))
ax.xaxis.set_major_locator(mdates.MonthLocator(bymonth=[1, 7]))
ax.xaxis.set_minor_locator(mdates.MonthLocator())
ax.xaxis.set_major_formatter(mdates.DateFormatter('%d-%b-%y'))

ax.grid(which='major', axis='both', color='#606060', lw=1.2)
ax.grid(which='minor', axis='y', color='#C8C8C8', lw=1.2)
ax.set_axisbelow(True)

ax.tick_params(axis='both', which='major', labelsize=20, length=7, width=1.2, color='black')
ax.tick_params(axis='y', which='minor', length=4, width=1)
ax.tick_params(axis='x', which='minor', length=4, width=1)
ax.tick_params(axis='x', which='major', pad=6)
ax2.yaxis.set_major_locator(MultipleLocator(10))
ax2.tick_params(axis='y', labelsize=20, length=0, pad=9)

for s in ['left', 'bottom']:
    ax.spines[s].set_color('black')
    ax.spines[s].set_linewidth(1.3)
ax.spines['top'].set_color('#404040')
ax.spines['right'].set_visible(False)
ax2.spines['right'].set_color('#808080')
ax2.spines['right'].set_linewidth(1.5)
for s in ['left', 'bottom', 'top']:
    ax2.spines[s].set_visible(False)

ax.set_ylabel('Groundwater Elevation (masl)', fontsize=21, fontweight='bold')
ax.yaxis.set_label_coords(-0.0445, 0.5)
ax2.set_ylabel('Daily Precipitation (mm/day)', fontsize=21, fontweight='bold')
ax2.yaxis.set_label_coords(1.039, 0.5)
ax.set_xlabel('Date', fontsize=21, fontweight='bold')
ax.xaxis.set_label_coords(0.5, -0.052)

# legend sits at the bottom edge of the figure, partly outside it
handles = [
    Line2D([], [], ls='none', marker='o', ms=14.5, color='black', mec='white'),
    Line2D([], [], ls='none', marker='D', ms=10, color='#0000FF', mec='white'),
]
fig.legend(handles, ['TW', 'SP18-01'], loc='upper left',
           bbox_to_anchor=(21 / 1884, 1 - 1160 / 1173), ncol=2, frameon=False,
           fontsize=15.5, handlelength=2, handletextpad=1.0, columnspacing=5.3,
           borderpad=0, borderaxespad=0)

fig.add_artist(Line2D([0, 1], [0.999, 0.999], color='black', lw=2, transform=fig.transFigure))

fig.savefig('out.png', dpi=100)
